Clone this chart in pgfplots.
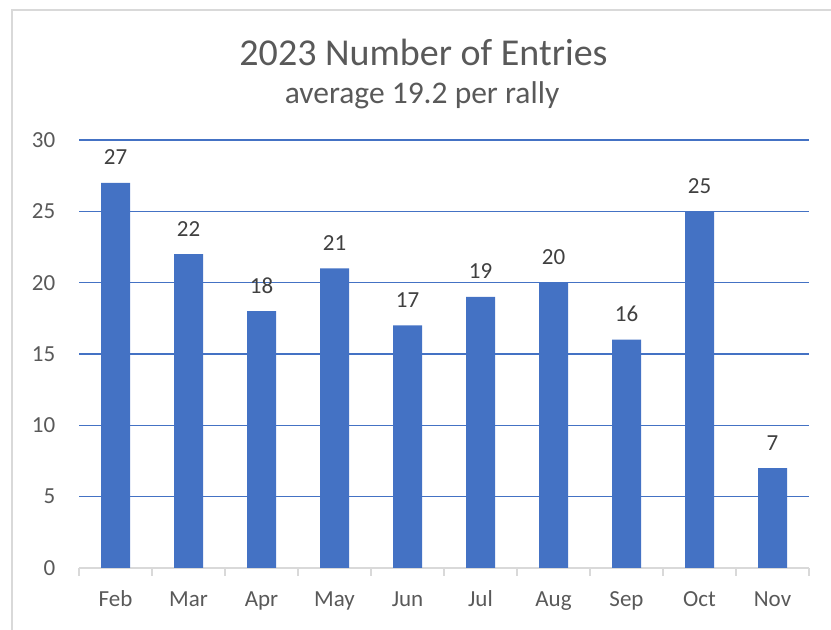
\documentclass[border=0pt]{standalone}
\usepackage{pgfplots}
\pgfplotsset{compat=1.18}
\usepackage{fontspec}
\setmainfont{Carlito}
\definecolor{barblue}{HTML}{4472C4}
\definecolor{txtgray}{HTML}{595959}
\definecolor{lblgray}{HTML}{404040}
\definecolor{axgray}{HTML}{D9D9D9}
\begin{document}
\begin{tikzpicture}
\useasboundingbox (0,0) rectangle (831bp,630bp);
\draw[axgray, line width=1.4bp] (12bp,0) -- (12bp,620bp) -- (835bp,620bp);
\node[anchor=base, text=txtgray, font=\fontsize{38bp}{44bp}\selectfont] at (423.5bp,564bp) {2023 Number of Entries};
\node[anchor=base, text=txtgray, font=\fontsize{31.5bp}{36bp}\selectfont] at (422bp,526bp) {average 19.2 per rally};
\begin{axis}[
  at={(79bp,62bp)}, anchor=south west,
  scale only axis, width=730bp, height=428bp,
  xmin=-0.5, xmax=9.5, ymin=0, ymax=30,
  /pgf/number format/assume math mode=true,
  axis x line*=bottom, axis y line*=left,
  separate axis lines,
  x axis line style={draw=axgray, line width=1.4bp, -},
  y axis line style={draw=none},
  xtick={-0.5,0.5,...,9.5},
  x tick label as interval=true,
  xticklabels={Feb,Mar,Apr,May,Jun,Jul,Aug,Sep,Oct,Nov},
  xtick style={draw=axgray, line width=1.4bp},
  tick align=outside,
  major tick length=7.5bp,
  ytick={0,5,...,30},
  ytick style={draw=none},
  ymajorgrids,
  grid style={draw=barblue, line width=1.5bp},
  tick label style={text=txtgray, font=\fontsize{23bp}{27bp}\selectfont},
  xticklabel style={anchor=base, inner sep=0pt, yshift=-31bp},
  yticklabel style={anchor=east, inner sep=0pt, xshift=-16bp},
  ybar, bar width=29bp,
  nodes near coords,
  nodes near coords style={anchor=base, inner sep=0pt, yshift=18bp, text=lblgray, font=\fontsize{23bp}{27bp}\selectfont},
  clip=false,
]
\addplot[fill=barblue, draw=none, bar shift=0pt] coordinates {
 (0,27) (1,22) (2,18) (3,21) (4,17) (5,19) (6,20) (7,16) (8,25) (9,7)
};
\end{axis}
\end{tikzpicture}
\end{document}
